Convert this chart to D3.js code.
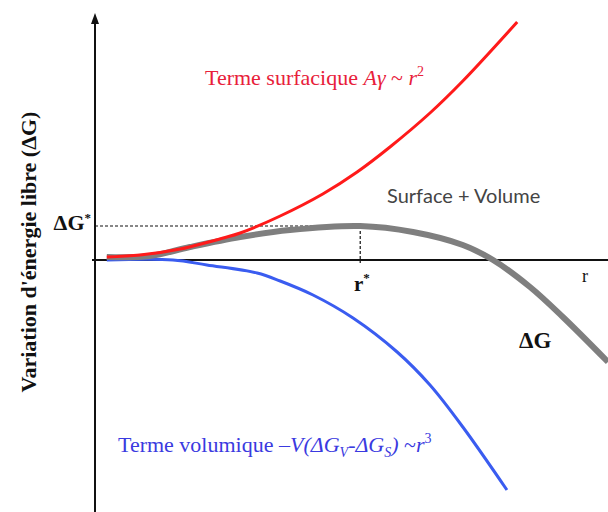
<!DOCTYPE html>
<html>
<head>
<meta charset="utf-8">
<script src="https://cdn.jsdelivr.net/npm/d3@7"></script>
<style>
  body { margin: 0; background: #fff; }
  svg { display: block; }
  .serif { font-family: "Liberation Serif", "DejaVu Serif", serif; }
</style>
</head>
<body>
<svg id="chart"></svg>
<script>
// rayon r (unités arbitraires) et énergies
const rSurface = [0.23, 0.88, 1.66, 2.50, 2.83, 3.61, 4.44, 5.11, 5.75, 6.53, 7.17, 8.23];
const gSurface = [0.06, 0.10, 0.22, 0.44, 0.54, 0.88, 1.32, 1.76, 2.26, 2.94, 3.58, 4.76];

const rVolume = [0.23, 1.52, 2.18, 3.16, 3.61, 4.25, 5.03, 5.89, 6.53, 7.17, 8.03];
const gVolume = [0.00, 0.00, -0.10, -0.26, -0.42, -0.70, -1.16, -1.84, -2.50, -3.34, -4.60];

const rTotal = [0.23, 1.07, 1.85, 2.83, 3.80, 5.17, 6.20, 7.17, 7.76, 8.48, 9.12, 10.0];
const gTotal = [0.06, 0.08, 0.26, 0.46, 0.60, 0.68, 0.56, 0.30, 0.00, -0.54, -1.14, -2.04];

const rStar = 5.17;
const gStar = 0.68;

const width = 608, height = 512;

const svg = d3.select("#chart")
    .attr("width", width)
    .attr("height", height);

const x = d3.scaleLinear().domain([0, 10]).range([95, 608]);
const y = d3.scaleLinear().domain([-5, 5]).range([510, 10]);

const line = d3.line()
    .x(d => x(d[0]))
    .y(d => y(d[1]))
    .curve(d3.curveCatmullRom);

// axes
svg.append("line")
    .attr("x1", x(0)).attr("x2", x(0))
    .attr("y1", 20).attr("y2", height)
    .attr("stroke", "#111").attr("stroke-width", 2);
svg.append("path")
    .attr("d", `M${x(0) - 4},${24} L${x(0)},${13} L${x(0) + 4},${24} Z`)
    .attr("fill", "#111");
svg.append("line")
    .attr("x1", x(0) - 3).attr("x2", width)
    .attr("y1", y(0)).attr("y2", y(0))
    .attr("stroke", "#111").attr("stroke-width", 2);

// pointillés ΔG* et r*
svg.append("line")
    .attr("x1", x(0)).attr("x2", x(rStar))
    .attr("y1", y(gStar)).attr("y2", y(gStar))
    .attr("stroke", "#111").attr("stroke-width", 1.2)
    .attr("stroke-dasharray", "3,2");
svg.append("line")
    .attr("x1", x(rStar)).attr("x2", x(rStar))
    .attr("y1", y(gStar)).attr("y2", y(0) + 3)
    .attr("stroke", "#111").attr("stroke-width", 1.2)
    .attr("stroke-dasharray", "3,2");

// courbes
svg.append("path")
    .datum(d3.zip(rVolume, gVolume))
    .attr("d", line)
    .attr("fill", "none")
    .attr("stroke", "#3a5cf0")
    .attr("stroke-width", 3);

svg.append("path")
    .datum(d3.zip(rTotal, gTotal))
    .attr("d", line)
    .attr("fill", "none")
    .attr("stroke", "#7f7f7f")
    .attr("stroke-width", 6);

svg.append("path")
    .datum(d3.zip(rSurface, gSurface))
    .attr("d", line)
    .attr("fill", "none")
    .attr("stroke", "#ff1a1a")
    .attr("stroke-width", 3);

// textes
const tSurf = svg.append("text")
    .attr("class", "serif")
    .attr("x", 205).attr("y", 85)
    .attr("font-size", 22)
    .attr("fill", "#e8203a");
tSurf.append("tspan").text("Terme surfacique ");
tSurf.append("tspan").attr("font-style", "italic").text("Aγ");
tSurf.append("tspan").text(" ~ ");
tSurf.append("tspan").attr("font-style", "italic").text("r");
tSurf.append("tspan").attr("font-size", 14).attr("dy", -9).text("2");

const tVol = svg.append("text")
    .attr("class", "serif")
    .attr("x", 118).attr("y", 452)
    .attr("font-size", 22)
    .attr("fill", "#3a3ae0");
tVol.append("tspan").text("Terme volumique –");
tVol.append("tspan").attr("font-style", "italic").text("V(ΔG");
tVol.append("tspan").attr("font-style", "italic").attr("font-size", 14).attr("dy", 5).text("V");
tVol.append("tspan").attr("font-style", "italic").attr("dy", -5).text("-ΔG");
tVol.append("tspan").attr("font-style", "italic").attr("font-size", 14).attr("dy", 5).text("S");
tVol.append("tspan").attr("font-style", "italic").attr("dy", -5).text(")");
tVol.append("tspan").text(" ~");
tVol.append("tspan").attr("font-style", "italic").text("r");
tVol.append("tspan").attr("font-size", 14).attr("dy", -9).text("3");

svg.append("text")
    .attr("x", 387).attr("y", 203)
    .attr("font-family", "Lato, 'Open Sans', sans-serif")
    .attr("font-size", 20)
    .attr("fill", "#444")
    .text("Surface + Volume");

const tGs = svg.append("text")
    .attr("class", "serif")
    .attr("x", 91).attr("y", 230)
    .attr("text-anchor", "end")
    .attr("font-size", 22).attr("font-weight", "bold")
    .attr("fill", "#111");
tGs.append("tspan").text("ΔG");
tGs.append("tspan").attr("font-size", 13).attr("dy", -8).text("*");

const tRs = svg.append("text")
    .attr("class", "serif")
    .attr("x", 354).attr("y", 291)
    .attr("font-size", 21).attr("font-weight", "bold")
    .attr("fill", "#111");
tRs.append("tspan").text("r");
tRs.append("tspan").attr("font-size", 13).attr("dy", -9).text("*");

svg.append("text")
    .attr("class", "serif")
    .attr("x", 582).attr("y", 282)
    .attr("font-size", 18)
    .attr("fill", "#111")
    .text("r");

svg.append("text")
    .attr("class", "serif")
    .attr("x", 519).attr("y", 348)
    .attr("font-size", 23).attr("font-weight", "bold")
    .attr("fill", "#111")
    .text("ΔG");

svg.append("text")
    .attr("class", "serif")
    .attr("transform", "translate(36,252) rotate(-90)")
    .attr("text-anchor", "middle")
    .attr("font-size", 22).attr("font-weight", "bold")
    .attr("fill", "#111")
    .text("Variation d'énergie libre (ΔG)");
</script>
</body>
</html>
